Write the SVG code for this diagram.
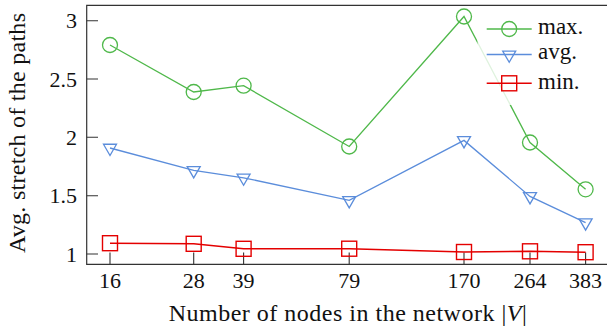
<svg xmlns="http://www.w3.org/2000/svg" width="607" height="331" viewBox="0 0 607 331">
<style>
.ax{fill:none;stroke:#333;stroke-width:1.2}
.tk{stroke:#333;stroke-width:1.1}
.tl{font-family:"Liberation Serif","Times New Roman",serif;font-size:22px;fill:#111}
.lab{font-family:"Liberation Serif","Times New Roman",serif;font-size:24px;fill:#111}
.leg{font-family:"Liberation Serif","Times New Roman",serif;font-size:23px;fill:#111}
.g{fill:none;stroke:#4fb84a;stroke-width:1.3}
.b{fill:none;stroke:#5b8ddb;stroke-width:1.3}
.r{fill:none;stroke:#e40000;stroke-width:1.4}
</style>
<defs>
<circle id="mc" r="7.5" class="g"/>
<path id="mt" d="M-6.5,-3.75 L6.5,-3.75 L0,7.5 Z" class="b"/>
<rect id="ms" x="-7.5" y="-7.5" width="15" height="15" class="r"/>
</defs>
<rect width="607" height="331" fill="#fff"/>
<g id="axis">
<path class="ax" d="M610,5.3 H86.7 V264.3 H610"/>
<g class="tk">
<path d="M86.7,20.7 H98 M86.7,79 H98 M86.7,137.3 H98 M86.7,195.7 H98 M86.7,254 H98"/>
<path d="M110,264.3 V252.5 M193.7,264.3 V252.5 M243.6,264.3 V252.5 M349.2,264.3 V252.5 M464,264.3 V252.5 M530,264.3 V252.5 M585.6,264.3 V252.5"/>
</g>
<g class="tl" text-anchor="end">
<text x="77" y="28.3">3</text>
<text x="77" y="86.6">2.5</text>
<text x="77" y="144.9">2</text>
<text x="77" y="203.3">1.5</text>
<text x="77" y="261.6">1</text>
</g>
<g class="tl" text-anchor="middle">
<text x="110" y="288">16</text>
<text x="193.7" y="288">28</text>
<text x="243.6" y="288">39</text>
<text x="349.2" y="288">79</text>
<text x="464" y="288">170</text>
<text x="530" y="288">264</text>
<text x="585.6" y="288">383</text>
</g>
<text class="lab" x="347.7" y="321" text-anchor="middle" textLength="358" lengthAdjust="spacing">Number of nodes in the network |<tspan font-style="italic">V</tspan>|</text>
<text class="lab" transform="translate(25,133) rotate(-90)" text-anchor="middle" textLength="240" lengthAdjust="spacing">Avg. stretch of the paths</text>
</g>
<g id="connectors">
<polyline class="g" points="110,45 193.7,92 243.6,85.7 349.2,146.5 464,16.5 530,142.5 585.6,189.3"/>
<polyline class="b" points="110,148 193.7,170.4 243.6,177.8 349.2,200.4 464,140.4 530,196.4 585.6,222.7"/>
<polyline class="r" points="110,243.2 193.7,243.8 243.6,248.8 349.2,248.7 464,252 530,251.3 585.6,252.2"/>
</g>
<g id="series-max">
<use href="#mc" x="110" y="45"/><use href="#mc" x="193.7" y="92"/><use href="#mc" x="243.6" y="85.7"/><use href="#mc" x="349.2" y="146.5"/><use href="#mc" x="464" y="16.5"/><use href="#mc" x="530" y="142.5"/><use href="#mc" x="585.6" y="189.3"/>
</g>
<g id="series-avg">
<use href="#mt" x="110" y="148"/><use href="#mt" x="193.7" y="170.4"/><use href="#mt" x="243.6" y="177.8"/><use href="#mt" x="349.2" y="200.4"/><use href="#mt" x="464" y="140.4"/><use href="#mt" x="530" y="196.4"/><use href="#mt" x="585.6" y="222.7"/>
</g>
<g id="series-min">
<use href="#ms" x="110" y="243.2"/><use href="#ms" x="193.7" y="243.8"/><use href="#ms" x="243.6" y="248.8"/><use href="#ms" x="349.2" y="248.7"/><use href="#ms" x="464" y="252"/><use href="#ms" x="530" y="251.3"/><use href="#ms" x="585.6" y="252.2"/>
</g>
<g id="legend">
<rect x="477.5" y="8" width="135" height="97" fill="#fff" fill-opacity="0.82"/>
<path class="g" d="M486.7,29 H531.7"/><use href="#mc" x="509.2" y="29"/>
<path class="b" d="M486.7,54.5 H531.7"/><use href="#mt" x="509.2" y="54.8"/>
<path class="r" d="M486.7,83.3 H531.7"/><use href="#ms" x="509.2" y="83.3"/>
<text class="leg" x="538" y="33.5">max.</text>
<text class="leg" x="538" y="59.3">avg.</text>
<text class="leg" x="538" y="89.3">min.</text>
</g>
</svg>
